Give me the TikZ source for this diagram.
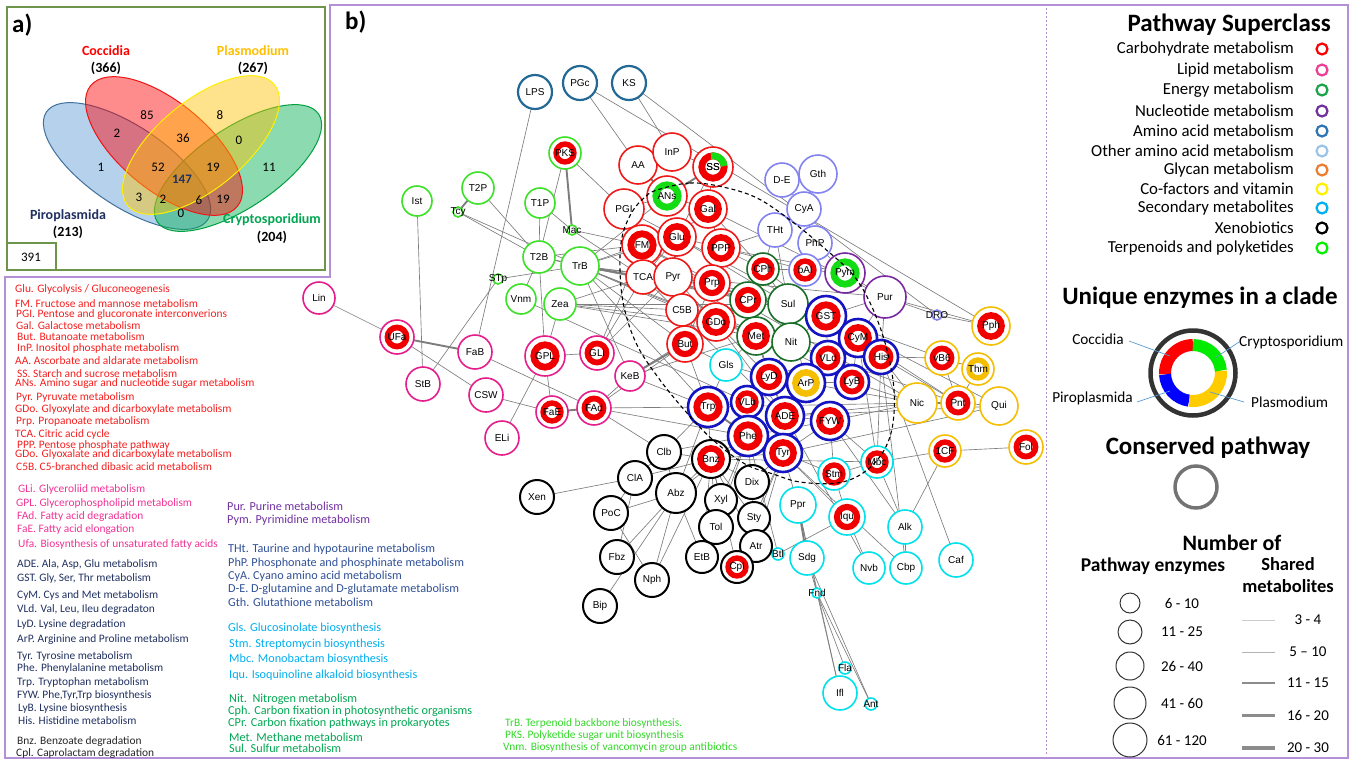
\documentclass[tikz,border=0pt]{standalone}
\usepackage{fontspec}
\setmainfont{Carlito}
\newfontfamily\arl{Liberation Sans}
\usetikzlibrary{backgrounds}
\definecolor{cred}{RGB}{240,25,25}
\definecolor{cmag}{RGB}{230,30,140}
\definecolor{cegr}{RGB}{25,110,40}
\definecolor{cpur}{RGB}{120,40,160}
\definecolor{caa}{RGB}{20,20,195}
\definecolor{coaa}{RGB}{130,130,240}
\definecolor{cyel}{RGB}{245,190,0}
\definecolor{ccya}{RGB}{0,225,235}
\definecolor{cterp}{RGB}{60,225,40}
\definecolor{cgly}{RGB}{35,105,150}
\definecolor{ir}{RGB}{240,0,0}
\definecolor{ig}{RGB}{20,220,20}
\definecolor{iy}{RGB}{245,190,0}
\definecolor{tred}{RGB}{245,30,30}
\definecolor{tmag}{RGB}{240,50,150}
\definecolor{tnav}{RGB}{32,48,96}
\definecolor{tpur}{RGB}{112,48,160}
\definecolor{tblu}{RGB}{47,80,150}
\definecolor{tcya}{RGB}{0,174,239}
\definecolor{tgrn}{RGB}{0,166,81}
\definecolor{tlgr}{RGB}{50,215,40}
\definecolor{frm}{RGB}{180,145,215}
\definecolor{vgr}{RGB}{110,150,75}
\definecolor{vbf}{RGB}{91,155,213}
\definecolor{vbd}{RGB}{65,113,156}
\definecolor{vgf}{RGB}{0,176,80}
\definecolor{vgd}{RGB}{0,160,64}
\definecolor{vrf}{RGB}{255,0,0}
\definecolor{vrd}{RGB}{240,20,20}
\definecolor{vyf}{RGB}{255,192,0}
\definecolor{vyd}{RGB}{255,240,0}
\definecolor{l1}{RGB}{255,0,0}
\definecolor{l2}{RGB}{240,60,150}
\definecolor{l3}{RGB}{27,163,74}
\definecolor{l4}{RGB}{112,48,160}
\definecolor{l5}{RGB}{46,117,182}
\definecolor{l6}{RGB}{157,195,230}
\definecolor{l7}{RGB}{237,125,49}
\definecolor{l8}{RGB}{255,240,0}
\definecolor{l9}{RGB}{0,176,240}
\definecolor{l10}{RGB}{0,0,0}
\definecolor{l11}{RGB}{0,240,0}
\definecolor{dyel}{RGB}{255,204,0}
\definecolor{dgrn}{RGB}{0,235,0}
\definecolor{ldc}{RGB}{91,155,213}
\definecolor{edg}{RGB}{125,125,125}
\tikzset{
 pw/.style={circle, fill=white, inner sep=0pt, outer sep=0pt, line width=1.6pt},
 lbl/.style={font=\arl\fontsize{10}{10}\selectfont, inner sep=0pt},
 carb/.style={draw=cred}, lip/.style={draw=cmag}, ene/.style={draw=cegr},
 nuc/.style={draw=cpur}, ami/.style={draw=caa, line width=2.6pt}, oam/.style={draw=coaa},
 cof/.style={draw=cyel}, sec/.style={draw=ccya}, xen/.style={draw=black, line width=2pt},
 ter/.style={draw=cterp}, gly/.style={draw=cgly, line width=2.2pt},
 ed/.style={draw=edg, line width=0.65pt},
 edt/.style={draw=edg, line width=1.9pt},
 lt/.style={anchor=west, inner sep=0pt, font=\fontsize{11.4}{12}\selectfont},
 lt2/.style={anchor=west, inner sep=0pt, font=\fontsize{12.2}{13}\selectfont},
 rt/.style={anchor=east, inner sep=0pt, font=\fontsize{16.8}{18}\selectfont},
 hd/.style={inner sep=0pt, font=\bfseries\fontsize{25}{27}\selectfont},
 vl/.style={inner sep=0pt, font=\fontsize{13}{14}\selectfont},
 vb/.style={inner sep=0pt, font=\bfseries\fontsize{14}{15}\selectfont},
 lead/.style={draw=ldc, line width=0.7pt},
 dl/.style={inner sep=0pt, font=\fontsize{15.3}{17}\selectfont},
 nl/.style={inner sep=0pt, font=\fontsize{15}{16}\selectfont},
}
\newcommand{\pnd}[6]{\node[pw, minimum size=#4*2pt, #5] (#1) at (#2,-#3) {};\node[lbl] at (#2,-#3) {#6};}
\newcommand{\prg}[7]{\node[pw, minimum size=#4*2pt, #5] (#1) at (#2,-#3) {};\draw[#6, line width=#4*0.34pt] (#2,-#3) circle[radius=#4*0.56];\node[lbl] at (#2,-#3) {#7};}
\newcommand{\lgt}[4]{\node[lt, text=#3] at (#1,-#2) {#4};}
\newcommand{\lgu}[4]{\node[lt2, text=#3] at (#1,-#2) {#4};}
\begin{document}
\begin{tikzpicture}[x=1pt,y=1pt]
\useasboundingbox (0,0) rectangle (1353,-764);
% frames
\draw[frm, line width=1.5pt] (330,-5) -- (1348,-5) -- (1348,-758) -- (5,-758) -- (5,-277) -- (330,-277) -- cycle;
\draw[frm, line width=1pt, dash pattern=on 2pt off 2pt] (1046,-8) -- (1046,-756);
% ---------- Venn ----------
\fill[white] (7,-7) rectangle (325,-270);
\draw[vgr, line width=1.8pt] (7,-7) rectangle (325,-270);
\draw[vgr, line width=1.2pt] (7,-243) rectangle (56,-270);
\node[vl] at (31,-257) {391};
\node[hd, anchor=west] at (12,-25) {a)};
\draw[fill=vbf, fill opacity=0.45, draw=vbd, line width=1pt, rotate around={-33.8:(127,-166)}] (127,-166) ellipse[x radius=97, y radius=40];
\draw[fill=vgf, fill opacity=0.45, draw=vgd, line width=1pt, rotate around={33.8:(238,-168)}] (238,-168) ellipse[x radius=97, y radius=40];
\draw[fill=vrf, fill opacity=0.45, draw=vrd, line width=1pt, rotate around={-39.5:(164,-146)}] (164,-146) ellipse[x radius=95, y radius=44];
\draw[fill=vyf, fill opacity=0.45, draw=vyd, line width=1pt, rotate around={39.5:(201,-145)}] (201,-145) ellipse[x radius=95, y radius=44];
\node[vl] at (147,-115) {85};
\node[vl] at (117,-133) {2};
\node[vl] at (183,-138) {36};
\node[vl] at (220,-115) {8};
\node[vl] at (239,-140) {0};
\node[vl] at (101,-167) {1};
\node[vl] at (158,-167) {52};
\node[vl] at (213,-167) {19};
\node[vl] at (269,-167) {11};
\node[vl, text=tnav, font=\bfseries\fontsize{13}{14}\selectfont] at (182,-179) {147};
\node[vl] at (139,-197) {3};
\node[vl] at (163,-199) {2};
\node[vl] at (199,-200) {6};
\node[vl] at (223,-199) {19};
\node[vl] at (181,-213) {0};
\node[vb, text=red] at (106,-51) {Coccidia};
\node[vb] at (106,-68) {(366)};
\node[vb, text=vyf] at (253,-51) {Plasmodium};
\node[vb] at (253,-68) {(267)};
\node[vb, text=tnav] at (68,-216) {Piroplasmida};
\node[vb] at (68,-232) {(213)};
\node[vb, text=tgrn] at (272,-220) {Cryptosporidium};
\node[vb] at (272,-237) {(204)};
\node[hd, anchor=west] at (345,-22) {b)};
% ---------- left legends ----------
\lgt{15}{290}{tred}{Glu. Glycolysis / Gluconeogenesis}
\lgt{15}{304}{tred}{FM. Fructose and mannose metabolism}
\lgt{16}{315}{tred}{PGI. Pentose and glucoronate interconverions}
\lgt{16}{326}{tred}{Gal. Galactose metabolism}
\lgt{17}{337}{tred}{But. Butanoate metabolism}
\lgt{17}{348}{tred}{InP. Inositol phosphate metabolism}
\lgt{15}{361}{tred}{AA. Ascorbate and aldarate metabolism}
\lgt{17}{374}{tred}{SS. Starch and sucrose metabolism}
\lgt{15}{384}{tred}{ANs. Amino sugar and nucleotide sugar metabolism}
\lgt{16}{397}{tred}{Pyr. Pyruvate metabolism}
\lgt{15}{409}{tred}{GDo. Glyoxylate and dicarboxylate metabolism}
\lgt{16}{421}{tred}{Prp. Propanoate metabolism}
\lgt{15}{434}{tred}{TCA. Citric acid cycle}
\lgt{17}{445}{tred}{PPP. Pentose phosphate pathway}
\lgt{15}{454}{tred}{GDo. Glyoxalate and dicarboxylate metabolism}
\lgt{16}{467}{tred}{C5B. C5-branched dibasic acid metabolism}
\lgt{18}{489}{tmag}{GLi. Glyceroliid metabolism}
\lgt{16}{503}{tmag}{GPL. Glycerophospholipid metabolism}
\lgt{17}{517}{tmag}{FAd. Fatty acid degradation}
\lgt{17}{530}{tmag}{FaE. Fatty acid elongation}
\lgt{18}{544}{tmag}{Ufa. Biosynthesis of unsaturated fatty acids}
\lgt{17}{564}{tnav}{ADE. Ala, Asp, Glu metabolism}
\lgt{17}{578}{tnav}{GST. Gly, Ser, Thr metabolism}
\lgt{17}{595}{tnav}{CyM. Cys and Met metabolism}
\lgt{17}{610}{tnav}{VLd. Val, Leu, Ileu degradaton}
\lgt{17}{625}{tnav}{LyD. Lysine degradation}
\lgt{17}{640}{tnav}{ArP. Arginine and Proline metabolism}
\lgt{17}{656}{tnav}{Tyr. Tyrosine metabolism}
\lgt{17}{668}{tnav}{Phe. Phenylalanine metabolism}
\lgt{17}{682}{tnav}{Trp. Tryptophan metabolism}
\lgt{17}{695}{tnav}{FYW. Phe,Tyr,Trp biosynthesis}
\lgt{18}{708}{tnav}{LyB. Lysine biosynthesis}
\lgt{18}{721}{tnav}{His. Histidine metabolism}
\lgt{17}{742}{black!85}{Bnz. Benzoate degradation}
\lgt{16}{754}{black!85}{Cpl. Caprolactam degradation}
\lgu{227}{506}{tpur}{Pur. Purine metabolism}
\lgu{227}{520}{tpur}{Pym. Pyrimidine metabolism}
\lgu{228}{549}{tblu}{THt. Taurine and hypotaurine metabolism}
\lgu{228}{563}{tblu}{PhP. Phosphonate and phosphinate metabolism}
\lgu{228}{576}{tblu}{CyA. Cyano amino acid metabolism}
\lgu{228}{589}{tblu}{D-E. D-glutamine and D-glutamate metabolism}
\lgu{228}{602}{tblu}{Gth. Glutathione metabolism}
\lgu{228}{628}{tcya}{Gls. Glucosinolate biosynthesis}
\lgu{229}{644}{tcya}{Stm. Streptomycin biosynthesis}
\lgu{229}{659}{tcya}{Mbc. Monobactam biosynthesis}
\lgu{229}{675}{tcya}{Iqu. Isoquinoline alkaloid biosynthesis}
\lgu{229}{699}{tgrn}{Nit.\ \ Nitrogen metabolism}
\lgu{228}{711}{tgrn}{Cph. Carbon fixation in photosynthetic organisms}
\lgu{228}{723}{tgrn}{CPr. Carbon fixation pathways in prokaryotes}
\lgu{229}{737}{tgrn}{Met. Methane metabolism}
\lgu{229}{748}{tgrn}{Sul. Sulfur metabolism}
\lgt{505}{723}{tlgr}{TrB. Terpenoid backbone biosynthesis.}
\lgt{505}{736}{tlgr}{PKS. Polyketide sugar unit biosynthesis}
\lgt{503}{748}{tlgr}{Vnm. Biosynthesis of vancomycin group antibiotics}
% ---------- right legend ----------
\node[hd, anchor=east] at (1331,-25) {Pathway Superclass};
\foreach \t/\y/\c in {Carbohydrate metabolism/49/l1, Lipid metabolism/70/l2, Energy metabolism/90/l3,
 Nucleotide metabolism/111/l4, Amino acid metabolism/131/l5, Other amino acid metabolism/151/l6,
 Glycan metabolism/170/l7, Co-factors and vitamin/189/l8, Secondary metabolites/208/l9,
 Xenobiotics/228/l10, Terpenoids and polyketides/248/l11}{
 \node[rt] at (1294,-\y) {\t};
 \draw[draw=\c, line width=2.2pt] (1322,-\y) circle[radius=5.5];
}
\node[hd] at (1200,-298) {Unique enzymes in a clade};
\draw[black!80, line width=4.5pt] (1193,-373) circle[radius=42.5];
\draw[red, line width=12pt] ([shift={(90:28)}]1193,-373) arc[start angle=90, end angle=183, radius=28];
\draw[blue, line width=12pt] ([shift={(183:28)}]1193,-373) arc[start angle=183, end angle=262, radius=28];
\draw[dyel, line width=12pt] ([shift={(262:28)}]1193,-373) arc[start angle=262, end angle=365, radius=28];
\draw[dgrn, line width=12pt] ([shift={(5:28)}]1193,-373) arc[start angle=5, end angle=90, radius=28];
\node[dl, anchor=east] (lcoc) at (1124,-339) {Coccidia};
\node[dl, anchor=east] (lpir) at (1133,-398) {Piroplasmida};
\node[dl, anchor=west] (lcry) at (1239,-342) {Cryptosporidium};
\node[dl, anchor=west] (lpla) at (1251,-402) {Plasmodium};
\coordinate (dcoc) at (1170,-356);
\coordinate (dpir) at (1170,-391);
\coordinate (dcry) at (1215,-358);
\coordinate (dpla) at (1210,-392);
\draw[lead] (lcoc.east) ++(5,-2) -- (dcoc);
\draw[lead] (lpir.east) ++(4,-4) -- (dpir);
\draw[lead] (lcry.west) -- (dcry);
\draw[lead] (lpla.west) ++(-7,0) -- (dpla);
\node[hd] at (1208,-448) {Conserved pathway};
\draw[gray!90!black, line width=3.5pt] (1196,-487) circle[radius=21];
\node[inner sep=0pt, font=\bfseries\fontsize{22}{24}\selectfont] at (1232,-543) {Number of};
\node[inner sep=0pt, font=\bfseries\fontsize{19.5}{21}\selectfont] at (1153,-566) {Pathway enzymes};
\node[inner sep=0pt, font=\bfseries\fontsize{18.5}{20}\selectfont] at (1288,-564) {Shared};
\node[inner sep=0pt, font=\bfseries\fontsize{18.5}{20}\selectfont] at (1288,-586) {metabolites};
\foreach \y/\r/\t in {603/10/6 - 10, 632/12/11 - 25, 666/14/26 - 40, 703/16/41 - 60, 740/17/61 - 120}{
 \draw[black!80, line width=1pt] (1130,-\y) circle[radius=\r];
 \node[nl] at (1182,-\y) {\t};
}
\foreach \y/\w/\c/\t in {620/0.5/gray!40/3 - 4, 652/0.9/gray!60/5 -- 10, 683/2/gray!90/11 - 15, 715/3/gray!90/16 - 20, 748/4.5/gray!90/20 - 30}{
 \draw[draw=\c, line width=\w pt] (1242,-\y) -- (1275,-\y);
 \node[nl] at (1308,-\y) {\t};
}
% ---------- network nodes ----------
\pnd{LPS}{535}{92}{17}{gly}{LPS}
\pnd{PGc}{580}{83}{17}{gly}{PGc}
\pnd{KS}{629}{83}{17}{gly}{KS}
\prg{PKS}{565}{153}{16}{ter}{ir}{PKS}
\pnd{Ist}{417}{201}{15}{ter}{Ist}
\pnd{T2P}{478}{188}{16}{ter}{T2P}
\pnd{Tcy}{458}{212}{5}{ter}{Tcy}
\pnd{T1P}{540}{203}{15}{ter}{T1P}
\pnd{Mac}{572}{230}{5}{ter}{Mac}
\pnd{T2B}{539}{257}{16}{ter}{T2B}
\pnd{TrB}{580}{266}{19}{ter}{TrB}
\pnd{STp}{498}{279}{5}{ter}{STp}
\pnd{Vnm}{521}{299}{15}{ter}{Vnm}
\pnd{Zea}{560}{304}{16}{ter}{Zea}
\pnd{AA}{638}{165}{19}{carb}{AA}
\pnd{InP}{672}{152}{19}{carb}{InP}
\prg{SS}{713}{167}{20}{carb}{ir}{SS}
\draw[ig, line width=6.8pt] ([shift={(100:11.2)}]713,-167) arc[start angle=100, end angle=5, radius=11.2];
\node[lbl] at (713,-167) {SS};
\prg{ANs}{667}{196}{20}{carb}{ig}{ANs}
\pnd{PGI}{624}{209}{20}{carb}{PGI}
\prg{Gal}{708}{209}{19}{carb}{ir}{Gal}
\prg{FM}{642}{245}{20}{carb}{ir}{FM}
\prg{Glu}{677}{237}{19}{carb}{ir}{Glu}
\prg{PPP}{721}{248}{19}{carb}{ir}{PPP}
\pnd{TCA}{643}{277}{17}{carb}{TCA}
\pnd{Pyr}{673}{277}{19}{carb}{Pyr}
\prg{Prp}{712}{283}{18}{carb}{ir}{Prp}
\pnd{C5B}{682}{310}{16}{carb}{C5B}
\prg{GDo}{716}{322}{19}{carb}{ir}{GDo}
\prg{But}{685}{344}{18}{carb}{ir}{But}
\prg{CPh}{763}{269}{16}{ene}{ir}{CPh}
\prg{CPr}{748}{300}{18}{ene}{ir}{CPr}
\pnd{Sul}{788}{304}{20}{ene}{Sul}
\prg{Met}{756}{336}{19}{ene}{ir}{Met}
\pnd{Nit}{791}{342}{19}{ene}{Nit}
\pnd{DE}{782}{180}{17}{oam}{D-E}
\pnd{Gth}{818}{174}{19}{oam}{Gth}
\pnd{CyA}{804}{209}{17}{oam}{CyA}
\pnd{THt}{775}{230}{17}{oam}{THt}
\pnd{PhP}{815}{243}{17}{oam}{PhP}
\prg{bAl}{805}{270}{16}{oam}{ir}{bAl}
\pnd{DRO}{937}{315}{5}{oam}{DRO}
\prg{Pym}{845}{273}{20}{nuc}{ig}{Pym}
\pnd{Pur}{885}{297}{21}{nuc}{Pur}
\prg{GST}{826}{316}{20}{ami}{ir}{GST}
\prg{CyM}{858}{338}{19}{ami}{ir}{CyM}
\prg{VLd}{828}{358}{17}{ami}{ir}{VLd}
\prg{His}{881}{357}{17}{ami}{ir}{His}
\prg{LyB}{852}{382}{17}{ami}{ir}{LyB}
\prg{LyD}{769}{377}{18}{ami}{ir}{LyD}
\prg{ArP}{806}{383}{19}{ami}{iy}{ArP}
\prg{Trp}{708}{407}{20}{ami}{ir}{Trp}
\prg{VLb}{747}{402}{16}{ami}{ir}{VLb}
\prg{ADE}{785}{416}{19}{ami}{ir}{ADE}
\prg{FYW}{830}{421}{19}{ami}{ir}{FYW}
\prg{Phe}{748}{436}{20}{ami}{ir}{Phe}
\prg{Tyr}{783}{453}{19}{ami}{ir}{Tyr}
\pnd{Gls}{726}{365}{16}{sec}{Gls}
\prg{Stm}{834}{474}{16}{sec}{ir}{Stm}
\prg{Mbc}{877}{462}{16}{sec}{ir}{Mbc}
\pnd{Ppr}{798}{505}{18}{sec}{Ppr}
\prg{Iqu}{847}{517}{18}{sec}{ir}{Iqu}
\pnd{Alk}{905}{527}{17}{sec}{Alk}
\pnd{Btl}{778}{554}{6}{sec}{Btl}
\pnd{Sdg}{807}{558}{17}{sec}{Sdg}
\pnd{Nvb}{869}{568}{16}{sec}{Nvb}
\pnd{Cbp}{906}{568}{16}{sec}{Cbp}
\pnd{Caf}{956}{560}{17}{sec}{Caf}
\pnd{Fnd}{817}{593}{5}{sec}{Fnd}
\pnd{Fla}{845}{668}{6}{sec}{Fla}
\pnd{Ifl}{840}{693}{17}{sec}{Ifl}
\pnd{Ant}{871}{704}{6}{sec}{Ant}
\prg{Pph}{991}{326}{19}{cof}{ir}{Pph}
\prg{vB6}{942}{358}{17}{cof}{ir}{vB6}
\prg{Thm}{978}{369}{16}{cof}{iy}{Thm}
\pnd{Nic}{917}{403}{20}{cof}{Nic}
\prg{Pnt}{958}{403}{17}{cof}{ir}{Pnt}
\pnd{Qui}{999}{406}{19}{cof}{Qui}
\prg{oCF}{945}{451}{16}{cof}{ir}{1CF}
\prg{Fol}{1026}{447}{17}{cof}{ir}{Fol}
\pnd{Clb}{664}{452}{17}{xen}{Clb}
\prg{Bnz}{711}{459}{19}{xen}{ir}{Bnz}
\pnd{ClA}{635}{478}{17}{xen}{ClA}
\pnd{Abz}{676}{493}{20}{xen}{Abz}
\pnd{Dix}{752}{482}{17}{xen}{Dix}
\pnd{Xyl}{721}{500}{16}{xen}{Xyl}
\pnd{PoC}{611}{513}{17}{xen}{PoC}
\pnd{Sty}{754}{518}{16}{xen}{Sty}
\pnd{Tol}{716}{527}{17}{xen}{Tol}
\pnd{Atr}{756}{546}{16}{xen}{Atr}
\pnd{Xen}{537}{497}{17}{xen}{Xen}
\pnd{Fbz}{617}{557}{17}{xen}{Fbz}
\pnd{EtB}{702}{557}{16}{xen}{EtB}
\prg{Cpl}{737}{567}{16}{xen}{ir}{Cpl}
\pnd{Nph}{652}{580}{17}{xen}{Nph}
\pnd{Bip}{600}{606}{17}{xen}{Bip}
\pnd{Lin}{319}{298}{16}{lip}{Lin}
\prg{UFa}{397}{337}{17}{lip}{ir}{UFa}
\pnd{FaB}{475}{352}{17}{lip}{FaB}
\pnd{StB}{423}{384}{17}{lip}{StB}
\pnd{CSW}{486}{395}{17}{lip}{CSW}
\pnd{ELi}{502}{438}{17}{lip}{ELi}
\prg{GPL}{545}{356}{20}{lip}{ir}{GPL}
\prg{GLi}{597}{353}{17}{lip}{ir}{GLi}
\pnd{KeB}{630}{376}{15}{lip}{KeB}
\prg{FaE}{552}{412}{16}{lip}{ir}{FaE}
\prg{FAd}{594}{408}{17}{lip}{ir}{FAd}
% ---------- edges ----------
\begin{pgfonlayer}{background}
\foreach \a/\b in {PGc/AA, PGc/Pph, KS/InP, KS/DRO, LPS/FaB, Tcy/T2B, T2P/T2B, Tcy/TrB, T1P/Mac, T1P/T2B, PKS/T2B, PKS/PGI,
 T2B/TrB, Mac/FM, Mac/TCA, T2B/FM, T2B/TCA, TrB/TCA, TrB/Pyr, TrB/C5B, TrB/Prp, TrB/GDo, TrB/FM, TrB/Glu, TrB/But, TrB/Met,
 TrB/CPr, TrB/KeB, TrB/Trp, TrB/ANs, STp/TrB, STp/StB, Vnm/T2B, Vnm/VLb, Zea/GPL, T2B/GPL, Zea/TCA, Zea/C5B, Zea/GDo, Zea/Met, Zea/Sul,
 Ist/StB, Lin/UFa, UFa/CSW, FaB/FAd, CSW/FaE, ELi/GPL, GPL/GLi, GPL/FaE, FAd/KeB, FAd/Trp, FAd/Clb, FAd/Phe, FAd/But,
 GLi/TCA, GLi/Pyr, GLi/FM, KeB/GDo, KeB/Trp, KeB/Met,
 AA/InP, InP/SS, ANs/Gal, ANs/PGI, PGI/FM, PGI/Glu, FM/Glu, Glu/PPP, Glu/Pyr, Glu/Gal, FM/TCA, TCA/Pyr, Pyr/Prp, Pyr/C5B,
 Pyr/GDo, Prp/GDo, Prp/But, C5B/But, But/GDo, GDo/Met, GDo/CPr, Prp/CPr, PPP/CPh, PPP/Prp, Gal/PPP, SS/Gal, SS/Glu, Glu/TCA,
 TCA/GDo, TCA/CPr, Pyr/CPr, CPr/CPh, CPr/Sul, Met/Nit, Sul/Nit, Sul/CPh, Sul/GST, Nit/GST, CPh/bAl, bAl/PhP, bAl/Pym,
 Pym/Pur, THt/CyA, CyA/Gth, DE/CyA, THt/Sul, THt/CPh, PhP/Pym, CyA/PhP, PPP/THt, PPP/bAl, Pur/GST, Pur/CyM, Pur/His,
 Pur/DRO, DRO/Pph, Pur/Pph, GST/CyM, CyM/His, GST/VLd, VLd/LyB, His/LyB, CyM/LyB, LyD/VLd, LyD/ArP, LyD/VLb, LyD/ADE,
 ArP/ADE, ArP/LyB, ADE/FYW, FYW/Tyr, Phe/Tyr, Phe/Trp, Trp/VLb, VLb/Phe, ADE/Phe, ADE/Tyr, Phe/FYW, Trp/Bnz, Phe/Bnz,
 Tyr/Bnz, Tyr/Dix, Tyr/Stm, FYW/Stm, FYW/Mbc, His/Mbc, CyM/Mbc, LyB/Nic, His/Nic, His/Pnt, CyM/Pnt, VLd/Pnt, GST/Qui,
 His/vB6, GST/vB6, ArP/Nic, FYW/Nic, ADE/Qui, Nic/Pnt, Pnt/Qui, vB6/Thm, vB6/Pnt, Thm/Pnt, oCF/Fol, oCF/Mbc, oCF/Alk,
 Caf/His, Gls/Met, Gls/But, Gls/LyD, Gls/Trp, Glu/GST, Pyr/GST, TCA/ADE, GDo/ADE, Met/ADE, But/Trp, GDo/LyD, Met/LyD,
 Nit/LyD, Nit/VLd, CPr/LyD, Sul/ArP, CPh/GST, Pyr/Pur, TCA/LyB, FM/Nic, GDo/His, Gal/Pur, PPP/Pym, C5B/VLd,
 Xen/ClA, ClA/Clb, ClA/Bnz, Clb/Bnz, Clb/Trp, Abz/Bnz, Abz/Clb, PoC/Abz, PoC/ClA, PoC/Nph, Fbz/Abz, Fbz/ClA, Bip/Abz,
 Nph/Abz, Nph/Bnz, EtB/Bnz, EtB/Abz, Xyl/Bnz, Tol/Bnz, Tol/Xyl, Sty/Bnz, Dix/Bnz, Atr/Bnz, Cpl/Bnz, Sty/Tyr, Atr/Tyr,
 Dix/Tyr, Xyl/Phe, Abz/Trp, Tol/Phe, Cpl/Tyr, Atr/Phe, Btl/Iqu, Btl/Phe, Ppr/Tyr, Sdg/Fnd, Ppr/Fnd, Fnd/Fla, Fnd/Ifl,
 Fnd/Ant, Ppr/Ifl, Sdg/Ant, Iqu/Nvb, Iqu/Tyr, Iqu/Stm, Stm/Mbc, Alk/Cbp, Alk/FYW, Alk/Mbc, Cbp/His, Cbp/Tyr, Nvb/ADE,
 Abz/Phe, Clb/Phe, Bnz/Mbc, Qui/Tyr, Nic/Trp, Nic/ADE, Glu/Sul, TCA/Met, Pyr/Nit, FM/CPr, Gal/CPh, Prp/Sul, TrB/Sul}
 \draw[ed] (\a) -- (\b);
\foreach \a/\b in {T2P/Tcy, PKS/Mac, UFa/FaB, FaE/FAd, KeB/But, SS/ANs, AA/ANs, Ppr/Sdg, CPr/Met, Trp/Phe, Pnt/Nic, TrB/TCA, Glu/Pyr}
 \draw[edt] (\a) -- (\b);
\end{pgfonlayer}
% ---------- dashed loop ----------
\draw[black, line width=1.1pt, dash pattern=on 4pt off 3pt] plot[smooth cycle, tension=0.6] coordinates {
(657,-190) (690,-183) (723,-187) (757,-198) (790,-220) (823,-247) (857,-280) (880,-327) (893,-380) (893,-423)
(883,-452) (863,-473) (837,-483) (800,-482) (773,-474) (745,-464) (713,-440) (687,-413) (660,-380) (637,-345)
(624,-307) (620,-270) (622,-237) (632,-212) (645,-197)};
\end{tikzpicture}
\end{document}
